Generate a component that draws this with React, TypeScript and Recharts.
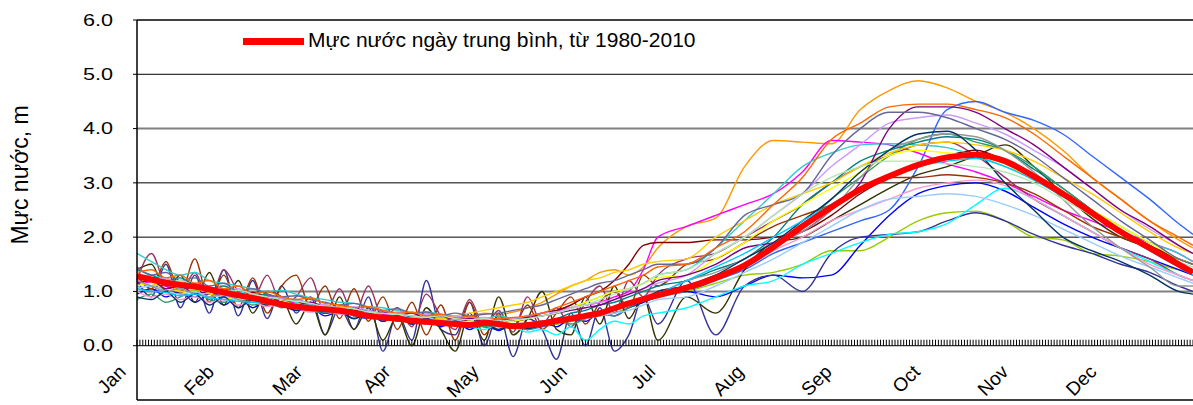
import React from "react";
import { ComposedChart, Line, Scatter, XAxis, YAxis, ReferenceLine } from "recharts";

// sampling days (day of year): every 5 days to end of June, every 10 after
const days = [
  0, 5, 10, 15, 20, 25, 30, 35, 40, 45, 50, 55, 60, 65, 70, 75, 80, 85, 90, 95,
  100, 105, 110, 115, 120, 125, 130, 135, 140, 145, 150, 155, 160, 165, 170, 175, 180,
  190, 200, 210, 220, 230, 240, 250, 260, 270, 280, 290, 300, 310, 320, 330, 340, 350, 360, 365,
];

// daily mean water level 1980-2010 (m)
const meanLevel = [
  1.28, 1.22, 1.16, 1.12, 1.09, 1.04, 0.98, 0.93, 0.88, 0.82, 0.76, 0.72, 0.69, 0.67, 0.65, 0.6, 0.55, 0.52, 0.5, 0.46,
  0.44, 0.42, 0.4, 0.38, 0.42, 0.4, 0.36, 0.38, 0.41, 0.46, 0.5, 0.55, 0.6, 0.69, 0.78, 0.86, 0.93,
  1.07, 1.25, 1.48, 1.82, 2.2, 2.55, 2.88, 3.12, 3.33, 3.47, 3.52, 3.4, 3.12, 2.8, 2.45, 2.1, 1.8, 1.5, 1.35,
];

// individual years
const yrA = [
  1.3, 1.25, 1.1, 1.2, 1.05, 1.0, 1.0, 0.95, 0.9, 0.95, 0.85, 0.8, 0.75, 0.7, 0.72, 0.65, 0.62, 0.6, 0.58, 0.55,
  0.6, 0.5, 0.52, 0.55, 0.6, 0.58, 0.62, 0.7, 0.8, 0.95, 1.1, 1.2, 1.35, 1.4, 1.3, 1.45, 1.8,
  2.2, 2.35, 3.3, 3.78, 3.75, 3.72, 4.35, 4.7, 4.88, 4.75, 4.5, 4.3, 4.0, 3.6, 3.1, 2.7, 2.3, 1.95, 1.8,
];
const yrB = [
  1.1, 1.0, 1.05, 0.95, 0.9, 1.0, 0.85, 0.9, 0.8, 0.85, 0.75, 0.7, 0.65, 0.6, 0.62, 0.55, 0.5, 0.55, 0.45, 0.5,
  0.4, 0.45, 0.38, 0.4, 0.35, 0.3, 0.38, 0.3, 0.35, 0.4, 0.45, 0.5, 0.55, 0.6, 0.7, 0.8, 0.9,
  1.0, 1.2, 1.4, 1.7, 1.9, 2.1, 2.3, 2.5, 3.3, 4.35, 4.5, 4.3, 4.15, 3.9, 3.5, 3.1, 2.7, 2.25, 2.05,
];
const yrC = [
  1.2, 1.15, 1.1, 1.05, 1.1, 1.0, 1.05, 0.95, 0.9, 0.92, 0.85, 0.78, 0.7, 0.72, 0.65, 0.68, 0.6, 0.58, 0.55, 0.5,
  0.55, 0.52, 0.48, 0.5, 0.45, 0.5, 0.48, 0.55, 0.6, 0.65, 0.7, 0.75, 0.8, 0.9, 1.0, 1.4, 2.0,
  2.2, 2.4, 2.6, 2.8, 3.2, 3.78, 3.75, 3.7, 3.55, 3.35, 3.2, 3.0, 2.75, 2.5, 2.3, 2.1, 1.9, 1.7, 1.55,
];
const yrD = [
  1.15, 1.1, 1.05, 1.0, 1.02, 0.95, 0.9, 0.92, 0.85, 0.8, 0.75, 0.78, 0.7, 0.65, 0.6, 0.62, 0.55, 0.5, 0.52, 0.45,
  0.45, 0.42, 0.4, 0.38, 0.4, 0.35, 0.32, 0.35, 0.38, 0.4, 0.45, 0.5, 0.55, 0.6, 0.7, 0.8, 0.9,
  1.0, 1.15, 1.3, 1.35, 1.5, 1.75, 1.75, 2.0, 2.3, 2.45, 2.48, 2.3, 2.0, 1.95, 1.7, 1.65, 1.55, 1.4, 1.35,
];
const yrE = [
  0.95, 1.05, 0.9, 1.0, 0.8, 0.95, 0.75, 0.9, 0.7, 0.85, 0.75, 0.65, 0.7, 0.55, 0.62, 0.5, 0.6, 0.45, 0.55, 0.4,
  0.5, 0.35, 0.45, 0.3, 0.42, 0.28, 0.4, 0.3, 0.45, 0.35, 0.5, 0.45, 0.6, 0.55, 0.7, 0.8, 0.9,
  1.0, 0.9, 1.1, 1.3, 1.25, 1.3, 1.85, 2.4, 2.8, 2.95, 3.0, 2.85, 2.55, 2.25, 2.0, 1.8, 1.6, 1.4, 1.3,
];
const yrF = [
  1.2, 0.9, 1.5, 0.7, 1.3, 0.6, 1.4, 0.55, 1.2, 0.5, 1.1, 0.6, 0.9, 0.2, 0.7, 0.3, 0.9, -0.1, 0.6, 0.1,
  1.2, 0.3, 0.2, 0.8, 0.0, 0.6, -0.2, 0.5, 0.3, -0.25, 0.6, 0.0, 0.7, -0.1, 0.2, 0.9, 0.4,
  1.2, 0.2, 1.1, 1.3, 1.0, 1.7, 2.0, 2.05, 2.1, 2.3, 2.45, 2.3, 2.05, 1.85, 1.7, 1.5, 1.35, 1.1, 1.0,
];
const yrG = [
  1.4, 1.5, 1.0, 1.3, 0.8, 1.35, 0.75, 1.2, 0.6, 1.0, 0.9, 0.4, 0.8, 0.2, 0.9, 0.3, 0.7, 0.1, 0.55, 0.0,
  0.7, 0.3, -0.1, 0.6, 0.1, 0.9, 0.2, 0.5, 1.0, 0.3, 0.2, 0.9, 0.4, 1.1, 0.5, 0.9, 0.1,
  0.9, 0.6, 1.4, 1.9, 2.0, 2.3, 2.6, 2.9, 3.15, 3.3, 3.5, 3.7, 3.3, 2.8, 2.35, 2.0, 1.8, 1.55, 1.35,
];
const yrH = [
  1.3, 1.05, 1.55, 0.95, 1.6, 0.8, 1.3, 0.7, 1.25, 0.6, 1.1, 1.3, 0.7, 1.1, 0.5, 1.05, 0.45, 0.9, 0.3, 0.8,
  0.2, 0.75, 0.1, 0.8, 0.2, 0.55, 0.35, 0.75, 0.3, 0.6, 0.9, 0.4, 0.8, 1.0, 0.7, 1.3, 1.1,
  1.5, 1.6, 1.9, 2.2, 2.4, 2.6, 2.9, 3.1, 3.1, 3.15, 3.1, 3.0, 2.8, 2.5, 2.2, 2.0, 1.8, 1.6, 1.5,
];
const yrI = [
  1.2, 1.7, 1.1, 1.0, 1.35, 0.8, 1.4, 1.0, 0.85, 1.3, 0.75, 0.9, 1.25, 0.6, 1.05, 0.55, 1.1, 0.5, 0.7, 0.35,
  0.95, 0.55, 0.3, 0.85, 0.35, 0.65, 0.25, 0.9, 0.4, 0.7, 0.35, 0.8, 1.1, 0.6, 1.2, 0.9, 1.3,
  1.6, 1.7, 2.0, 2.3, 2.6, 3.0, 3.3, 3.5, 3.7, 3.75, 3.5, 3.1, 2.7, 2.4, 2.1, 1.8, 1.6, 1.3, 1.2,
];
const yrJ = [
  1.3, 1.25, 1.2, 1.1, 1.1, 1.05, 1.0, 0.95, 0.98, 0.9, 0.85, 0.82, 0.75, 0.7, 0.7, 0.65, 0.6, 0.55, 0.5, 0.55,
  0.5, 0.45, 0.5, 0.45, 0.4, 0.5, 0.45, 0.5, 0.6, 0.65, 0.75, 0.9, 1.0, 1.2, 1.5, 1.85, 1.9,
  1.9, 1.95, 1.95, 2.0, 2.1, 2.4, 2.8, 3.1, 3.35, 3.5, 3.6, 3.4, 3.1, 2.8, 2.45, 2.1, 1.85, 1.6, 1.5,
];
const yrK = [
  1.25, 1.3, 1.2, 1.05, 1.1, 1.0, 0.95, 1.0, 0.9, 0.85, 0.9, 0.8, 0.7, 0.75, 0.65, 0.6, 0.6, 0.55, 0.5, 0.45,
  0.5, 0.4, 0.42, 0.35, 0.3, 0.4, 0.35, 0.25, 0.3, 0.2, 0.35, 0.1, 0.3, 0.45, 0.4, 0.55, 0.6,
  0.7, 0.9, 1.1, 1.2, 1.5, 1.7, 1.9, 2.05, 2.1, 2.25, 2.6, 2.9, 2.7, 2.4, 2.1, 1.8, 1.55, 1.3, 1.2,
];
const yrL = [
  1.7, 1.55, 1.4, 1.3, 1.35, 1.2, 1.15, 1.1, 1.05, 1.0, 1.02, 0.95, 0.88, 0.85, 0.8, 0.78, 0.72, 0.7, 0.65, 0.6,
  0.62, 0.58, 0.55, 0.52, 0.5, 0.55, 0.5, 0.52, 0.55, 0.6, 0.7, 0.8, 0.9, 1.0, 1.05, 1.15, 1.3,
  1.4, 1.8, 2.3, 2.8, 3.3, 3.55, 3.7, 3.72, 3.7, 3.65, 3.5, 3.3, 3.1, 2.8, 2.5, 2.2, 1.9, 1.7, 1.55,
];
const yrM = [
  1.4, 1.3, 1.2, 1.25, 1.1, 1.05, 1.1, 0.95, 0.9, 0.95, 0.8, 0.85, 0.75, 0.65, 0.7, 0.6, 0.65, 0.55, 0.5, 0.55,
  0.45, 0.5, 0.42, 0.45, 0.4, 0.45, 0.38, 0.42, 0.45, 0.5, 0.6, 0.65, 0.75, 0.8, 0.9, 1.0, 1.1,
  1.2, 1.4, 1.6, 2.0, 2.6, 3.0, 3.4, 3.6, 3.75, 3.85, 3.8, 3.6, 3.25, 2.9, 2.5, 2.1, 1.8, 1.5, 1.4,
];
const yrN = [
  0.85, 0.95, 0.8, 0.9, 1.0, 0.85, 0.8, 0.9, 0.75, 0.8, 0.7, 0.75, 0.65, 0.6, 0.7, 0.55, 0.6, 0.5, 0.55, 0.45,
  0.5, 0.42, 0.45, 0.38, 0.35, 0.42, 0.4, 0.3, 0.38, 0.45, 0.4, 0.5, 0.6, 0.55, 0.7, 0.85, 1.0,
  1.1, 1.3, 1.5, 1.8, 2.2, 2.7, 3.1, 3.5, 3.8, 3.9, 3.75, 3.6, 3.3, 2.9, 2.5, 2.1, 1.75, 1.5, 1.35,
];
const yrO = [
  1.1, 1.15, 1.05, 1.0, 0.95, 0.98, 0.9, 0.85, 0.88, 0.8, 0.78, 0.72, 0.7, 0.66, 0.62, 0.6, 0.58, 0.52, 0.5, 0.48,
  0.45, 0.5, 0.42, 0.45, 0.4, 0.42, 0.45, 0.5, 0.55, 0.6, 0.7, 0.8, 0.9, 1.0, 1.05, 1.15, 1.25,
  1.3, 1.6, 1.9, 2.3, 2.6, 2.9, 3.2, 3.5, 3.6, 3.55, 3.5, 3.35, 3.05, 2.8, 2.5, 2.2, 1.9, 1.6, 1.5,
];
const yrP = [
  1.2, 1.1, 1.15, 1.0, 1.05, 0.95, 0.9, 0.95, 0.85, 0.8, 0.82, 0.75, 0.7, 0.68, 0.65, 0.6, 0.62, 0.55, 0.5, 0.52,
  0.55, 0.5, 0.55, 0.6, 0.65, 0.7, 0.75, 0.8, 0.9, 1.0, 1.1, 1.2, 1.25, 1.35, 1.4, 1.5, 1.55,
  1.6, 2.0, 2.3, 2.6, 2.8, 3.0, 3.3, 3.55, 3.7, 3.75, 3.7, 3.6, 3.4, 3.1, 2.8, 2.45, 2.1, 1.8, 1.7,
];
const yrQ = [
  1.3, 1.2, 1.25, 1.1, 1.15, 1.05, 1.0, 1.05, 0.95, 0.9, 0.88, 0.85, 0.78, 0.75, 0.7, 0.72, 0.65, 0.6, 0.62, 0.55,
  0.58, 0.52, 0.55, 0.5, 0.52, 0.48, 0.5, 0.55, 0.6, 0.62, 0.7, 0.75, 0.8, 0.85, 0.95, 1.05, 1.15,
  1.3, 1.7, 2.0, 2.4, 2.8, 3.3, 3.7, 4.1, 4.2, 4.25, 4.1, 3.9, 3.6, 3.3, 2.9, 2.5, 2.15, 1.85, 1.7,
];
const yrR = [
  1.15, 1.2, 1.05, 1.1, 0.95, 1.0, 0.9, 0.95, 0.85, 0.9, 0.8, 0.75, 0.8, 0.7, 0.65, 0.7, 0.6, 0.62, 0.55, 0.6,
  0.5, 0.55, 0.48, 0.5, 0.45, 0.5, 0.48, 0.52, 0.55, 0.6, 0.65, 0.7, 0.75, 0.85, 0.95, 1.05, 1.2,
  1.3, 1.5, 1.8, 1.9, 2.1, 2.5, 3.0, 4.0, 4.4, 4.4, 4.3, 4.0, 3.7, 3.3, 2.9, 2.5, 2.2, 1.85, 1.7,
];
const yrS = [
  1.0, 0.9, 0.95, 0.85, 0.9, 0.8, 0.85, 0.75, 0.8, 0.72, 0.75, 0.68, 0.62, 0.65, 0.58, 0.6, 0.52, 0.55, 0.48, 0.5,
  0.45, 0.48, 0.4, 0.42, 0.38, 0.4, 0.35, 0.38, 0.42, 0.45, 0.5, 0.55, 0.6, 0.7, 0.8, 0.9, 1.0,
  1.1, 1.25, 1.45, 1.75, 2.0, 2.3, 2.5, 2.7, 2.9, 3.0, 3.05, 2.95, 2.7, 2.4, 2.1, 1.8, 1.5, 1.3, 1.2,
];
const yrT = [
  1.05, 1.1, 1.0, 0.95, 1.0, 0.9, 0.92, 0.85, 0.88, 0.8, 0.78, 0.72, 0.75, 0.65, 0.68, 0.6, 0.62, 0.55, 0.58, 0.5,
  0.52, 0.45, 0.48, 0.42, 0.45, 0.38, 0.4, 0.35, 0.4, 0.42, 0.48, 0.5, 0.55, 0.6, 0.65, 0.75, 0.85,
  0.9, 1.1, 1.35, 1.6, 1.9, 2.2, 2.5, 2.7, 2.75, 2.8, 2.75, 2.6, 2.4, 2.15, 1.9, 1.65, 1.45, 1.25, 1.15,
];
const yrU = [
  1.2, 1.1, 1.0, 1.05, 0.95, 0.9, 0.95, 0.85, 0.8, 0.85, 0.75, 0.7, 0.72, 0.65, 0.6, 0.62, 0.55, 0.5, 0.52, 0.45,
  0.48, 0.42, 0.45, 0.4, 0.38, 0.42, 0.35, 0.4, 0.45, 0.42, 0.5, 0.55, 0.6, 0.65, 0.75, 0.85, 0.95,
  1.2, 1.35, 1.6, 1.9, 2.1, 2.5, 3.1, 3.6, 3.8, 3.9, 3.85, 3.6, 3.2, 2.7, 2.2, 1.8, 1.45, 1.1, 1.1,
];
const yrV = [
  0.9, 0.85, 1.0, 0.8, 0.95, 0.75, 0.9, 0.7, 0.85, 0.75, 0.8, 0.65, 0.7, 0.6, 0.65, 0.5, 0.6, 0.45, 0.55, 0.4,
  0.5, 0.38, 0.45, 0.35, 0.42, 0.3, 0.4, 0.32, 0.38, 0.45, 0.5, 0.55, 0.6, 0.7, 0.75, 0.85, 1.0,
  1.1, 1.3, 1.6, 1.9, 2.3, 2.7, 3.2, 3.6, 3.9, 3.95, 3.6, 3.0, 2.5, 2.0, 1.75, 1.55, 1.3, 1.0, 0.95,
];
const yrW = [
  1.45, 1.3, 1.35, 1.2, 1.25, 1.1, 1.15, 1.0, 1.05, 0.95, 0.9, 0.92, 0.85, 0.8, 0.75, 0.78, 0.7, 0.65, 0.68, 0.6,
  0.62, 0.55, 0.6, 0.55, 0.58, 0.6, 0.65, 0.7, 0.75, 0.85, 0.95, 1.05, 1.15, 1.2, 1.3, 1.4, 1.5,
  1.5, 1.8, 2.4, 2.6, 2.8, 3.5, 4.0, 4.3, 4.3, 4.2, 4.0, 3.8, 3.5, 3.1, 2.7, 2.3, 1.95, 1.6, 1.5,
];
const yrX = [
  1.35, 1.4, 1.25, 1.3, 1.15, 1.2, 1.05, 1.1, 0.95, 1.0, 0.9, 0.85, 0.88, 0.78, 0.75, 0.7, 0.72, 0.65, 0.6, 0.62,
  0.55, 0.58, 0.5, 0.55, 0.48, 0.5, 0.52, 0.55, 0.6, 0.7, 0.8, 0.9, 1.0, 1.1, 1.2, 1.3, 1.45,
  1.5, 1.8, 2.1, 2.6, 3.1, 3.8, 4.1, 4.4, 4.45, 4.45, 4.35, 4.2, 3.9, 3.5, 3.1, 2.7, 2.3, 2.0, 1.85,
];
const yrY = [
  1.25, 1.2, 1.15, 1.2, 1.1, 1.05, 1.0, 1.02, 0.95, 0.9, 0.85, 0.82, 0.78, 0.72, 0.7, 0.68, 0.62, 0.6, 0.58, 0.55,
  0.52, 0.55, 0.5, 0.48, 0.5, 0.45, 0.48, 0.5, 0.55, 0.6, 0.68, 0.75, 0.85, 0.95, 1.05, 1.15, 1.3,
  1.4, 1.7, 2.0, 2.4, 2.8, 3.1, 3.3, 3.4, 3.4, 3.35, 3.3, 3.2, 3.0, 2.7, 2.4, 2.1, 1.8, 1.55, 1.45,
];
const yrZ = [
  1.05, 1.0, 0.98, 0.92, 0.95, 0.88, 0.85, 0.82, 0.8, 0.78, 0.72, 0.7, 0.65, 0.62, 0.6, 0.58, 0.55, 0.52, 0.5, 0.48,
  0.45, 0.42, 0.4, 0.42, 0.38, 0.35, 0.38, 0.4, 0.42, 0.45, 0.5, 0.55, 0.6, 0.68, 0.75, 0.85, 0.95,
  1.2, 1.45, 1.7, 2.0, 2.3, 2.6, 2.9, 3.1, 3.3, 3.4, 3.45, 3.3, 3.05, 2.75, 2.45, 2.1, 1.75, 1.45, 1.3,
];

const years = [
  { key: "yrA", color: "#FF9900", values: yrA },
  { key: "yrB", color: "#3366FF", values: yrB },
  { key: "yrC", color: "#FF00FF", values: yrC },
  { key: "yrD", color: "#99CC00", values: yrD },
  { key: "yrE", color: "#0000FF", values: yrE },
  { key: "yrF", color: "#333399", values: yrF },
  { key: "yrG", color: "#333300", values: yrG },
  { key: "yrH", color: "#993300", values: yrH },
  { key: "yrI", color: "#993366", values: yrI },
  { key: "yrJ", color: "#800000", values: yrJ },
  { key: "yrK", color: "#00FFFF", values: yrK },
  { key: "yrL", color: "#33CCCC", values: yrL },
  { key: "yrM", color: "#008080", values: yrM },
  { key: "yrN", color: "#339966", values: yrN },
  { key: "yrO", color: "#FFFF00", values: yrO },
  { key: "yrP", color: "#FFCC00", values: yrP },
  { key: "yrQ", color: "#CC99FF", values: yrQ },
  { key: "yrR", color: "#800080", values: yrR },
  { key: "yrS", color: "#FF99CC", values: yrS },
  { key: "yrT", color: "#99CCFF", values: yrT },
  { key: "yrU", color: "#969696", values: yrU },
  { key: "yrV", color: "#003366", values: yrV },
  { key: "yrW", color: "#666699", values: yrW },
  { key: "yrX", color: "#FF6600", values: yrX },
  { key: "yrY", color: "#B3E6B3", values: yrY },
  { key: "yrZ", color: "#00CCFF", values: yrZ },
];

const monthTicks = [0, 30.5, 61, 91.5, 122, 152.5, 183, 213.5, 244, 274.5, 305, 335.5];
const monthNames = ["Jan", "Feb", "Mar", "Apr", "May", "Jun", "Jul", "Aug", "Sep", "Oct", "Nov", "Dec"];
const levelTicks = [-1, 0, 1, 2, 3, 4, 5, 6];

const rows = days.map((day, i) => {
  const row: Record<string, number> = { day, mean: meanLevel[i] };
  years.forEach((y) => {
    row[y.key] = y.values[i];
  });
  return row;
});

// one small tick per day along the zero line
const dayMarks = Array.from({ length: 366 }, (_, d) => ({ day: d, mark: 0 }));

const FONT = "'Liberation Sans', Arial, sans-serif";

const LevelTick = ({ x, y, payload }: any) => (
  <text
    transform={`translate(${x},${y}) scale(1.35,1)`}
    textAnchor="end"
    dy="0.36em"
    fontSize={16}
    fontFamily={FONT}
    fill="#000"
  >
    {Number(payload.value).toFixed(1)}
  </text>
);

const MonthTick = ({ x, y, payload }: any) => {
  const name = monthNames[monthTicks.indexOf(payload.value)];
  return (
    <text
      transform={`translate(${x - 10},${y - 27}) rotate(-45)`}
      textAnchor="end"
      fontSize={19}
      fontFamily={FONT}
      fill="#000"
    >
      {name}
    </text>
  );
};

const DayMark = ({ cx, cy }: any) => (
  <line x1={cx} x2={cx} y1={cy - 6} y2={cy} stroke="#000" strokeWidth={1} />
);

export default function App() {
  return (
    <div style={{ position: "absolute", left: 0, top: 0, width: 1193, height: 405, background: "#fff" }}>
      <ComposedChart
        width={1193}
        height={405}
        data={rows}
        margin={{ top: 20, right: 0, bottom: 0, left: 0 }}
        style={{ fontFamily: FONT }}
      >
        <XAxis
          dataKey="day"
          type="number"
          domain={[0, 365]}
          ticks={monthTicks}
          interval={0}
          height={5}
          tickSize={0}
          tickMargin={0}
          tickLine={false}
          axisLine={{ stroke: "#000", strokeWidth: 1.5 }}
          tick={<MonthTick />}
        />
        <YAxis
          type="number"
          domain={[-1, 6]}
          ticks={levelTicks}
          width={137}
          tickSize={4}
          tickMargin={20}
          axisLine={{ stroke: "#000", strokeWidth: 1.5 }}
          tickLine={{ stroke: "#000" }}
          tick={<LevelTick />}
        />
        <ReferenceLine y={6} stroke="#000" strokeWidth={1.5} />
        <ReferenceLine y={5} stroke="#000" />
        <ReferenceLine y={4} stroke="#808080" strokeWidth={2} />
        <ReferenceLine y={3} stroke="#000" />
        <ReferenceLine y={2} stroke="#000" />
        <ReferenceLine y={1} stroke="#808080" strokeWidth={2} />
        <ReferenceLine y={0} stroke="#000" />
        <Scatter data={dayMarks} dataKey="mark" shape={<DayMark />} isAnimationActive={false} />
        {years.map((y) => (
          <Line
            key={y.key}
            dataKey={y.key}
            type="monotone"
            stroke={y.color}
            strokeWidth={1.4}
            dot={false}
            isAnimationActive={false}
          />
        ))}
        <Line dataKey="mean" type="monotone" stroke="#FF0000" strokeWidth={6} dot={false} isAnimationActive={false} />
      </ComposedChart>

      <div
        style={{
          position: "absolute",
          left: 20,
          top: 175,
          transform: "translate(-50%, -50%) rotate(-90deg)",
          transformOrigin: "center",
          whiteSpace: "nowrap",
          fontFamily: FONT,
          fontSize: 23,
          lineHeight: "23px",
        }}
      >
        Mực nước, m
      </div>

      <div style={{ position: "absolute", left: 243, top: 38, width: 61, height: 7, background: "#FF0000" }} />
      <div
        style={{
          position: "absolute",
          left: 308,
          top: 29,
          whiteSpace: "nowrap",
          fontFamily: FONT,
          fontSize: 21,
          lineHeight: "21px",
          color: "#000",
        }}
      >
        Mực nước ngày trung bình, từ 1980-2010
      </div>
    </div>
  );
}
